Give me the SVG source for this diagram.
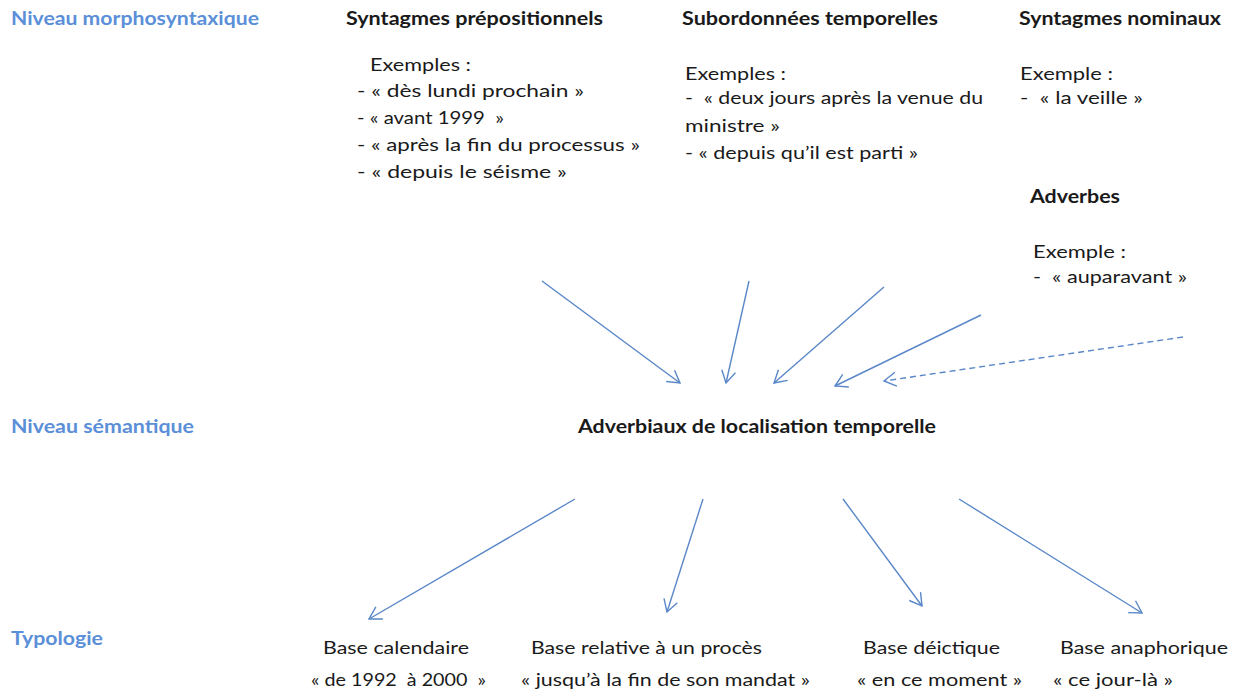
<svg xmlns="http://www.w3.org/2000/svg" width="1238" height="693" viewBox="0 0 1238 693">
<style>
text{font-family:Lato,"Liberation Sans",sans-serif;font-size:18px;fill:#1a1a1a}
.lvl{fill:#5b8fd8;font-weight:bold}
.h{font-weight:bold}
.c{stroke:#5a87c8;stroke-width:1.4;fill:none}
.d{stroke-dasharray:6 4}
</style>
<defs>
<marker id="ah" markerWidth="16" markerHeight="16" refX="13" refY="8" orient="auto" markerUnits="userSpaceOnUse">
<polyline points="1,1 13,8 1,15" fill="none" stroke="#5a87c8" stroke-width="1.4"/>
</marker>
</defs>
<rect width="1238" height="693" fill="#fff"/>
<g id="levels">
<text class="lvl" x="11" y="25" textLength="248" lengthAdjust="spacingAndGlyphs">Niveau morphosyntaxique</text>
<text class="lvl" x="11" y="433" textLength="183" lengthAdjust="spacingAndGlyphs">Niveau sémantique</text>
<text class="lvl" x="11" y="645" textLength="92" lengthAdjust="spacingAndGlyphs">Typologie</text>
</g>
<g id="sp">
<text class="h" x="346" y="25" textLength="257" lengthAdjust="spacingAndGlyphs">Syntagmes prépositionnels</text>
<text x="370" y="71" textLength="101" lengthAdjust="spacingAndGlyphs">Exemples :</text>
<text x="357" y="97" textLength="227" lengthAdjust="spacingAndGlyphs">- « dès lundi prochain »</text>
<text x="357" y="124" textLength="147" lengthAdjust="spacingAndGlyphs" xml:space="preserve">- « avant 1999  »</text>
<text x="357" y="151" textLength="283" lengthAdjust="spacingAndGlyphs">- « après la fin du processus »</text>
<text x="357" y="178" textLength="210" lengthAdjust="spacingAndGlyphs">- « depuis le séisme »</text>
</g>
<g id="st">
<text class="h" x="682" y="25" textLength="256" lengthAdjust="spacingAndGlyphs">Subordonnées temporelles</text>
<text x="685" y="80" textLength="101" lengthAdjust="spacingAndGlyphs">Exemples :</text>
<text x="685" y="104" textLength="298" lengthAdjust="spacingAndGlyphs" xml:space="preserve">-  « deux jours après la venue du</text>
<text x="685" y="132" textLength="95" lengthAdjust="spacingAndGlyphs">ministre »</text>
<text x="685" y="159" textLength="233" lengthAdjust="spacingAndGlyphs">- « depuis qu’il est parti »</text>
</g>
<g id="sn">
<text class="h" x="1019" y="25" textLength="202" lengthAdjust="spacingAndGlyphs">Syntagmes nominaux</text>
<text x="1020" y="80" textLength="93" lengthAdjust="spacingAndGlyphs">Exemple :</text>
<text x="1020" y="104" textLength="123" lengthAdjust="spacingAndGlyphs" xml:space="preserve">-  « la veille »</text>
</g>
<g id="adv">
<text class="h" x="1030" y="203" textLength="90" lengthAdjust="spacingAndGlyphs">Adverbes</text>
<text x="1033" y="258" textLength="93" lengthAdjust="spacingAndGlyphs">Exemple :</text>
<text x="1033" y="283" textLength="154" lengthAdjust="spacingAndGlyphs" xml:space="preserve">-  « auparavant »</text>
</g>
<g id="alt">
<text class="h" x="578" y="433" textLength="358" lengthAdjust="spacingAndGlyphs">Adverbiaux de localisation temporelle</text>
</g>
<g id="bc">
<text x="323" y="654" textLength="146" lengthAdjust="spacingAndGlyphs">Base calendaire</text>
<text x="311" y="686" textLength="175" lengthAdjust="spacingAndGlyphs" xml:space="preserve">« de 1992  à 2000  »</text>
</g>
<g id="br">
<text x="531" y="654" textLength="231" lengthAdjust="spacingAndGlyphs">Base relative à un procès</text>
<text x="521" y="686" textLength="289" lengthAdjust="spacingAndGlyphs">« jusqu’à la fin de son mandat »</text>
</g>
<g id="bd">
<text x="863" y="654" textLength="137" lengthAdjust="spacingAndGlyphs">Base déictique</text>
<text x="857" y="686" textLength="165" lengthAdjust="spacingAndGlyphs">« en ce moment »</text>
</g>
<g id="ba">
<text x="1060" y="654" textLength="168" lengthAdjust="spacingAndGlyphs">Base anaphorique</text>
<text x="1053" y="686" textLength="120" lengthAdjust="spacingAndGlyphs">« ce jour-là »</text>
</g>
<g id="connectors">
<line class="c" x1="542" y1="281" x2="680" y2="383" marker-end="url(#ah)"/>
<line class="c" x1="749" y1="281" x2="726" y2="383" marker-end="url(#ah)"/>
<line class="c" x1="884" y1="287" x2="774" y2="383" marker-end="url(#ah)"/>
<line class="c" x1="981" y1="315" x2="835" y2="386" marker-end="url(#ah)"/>
<line class="c d" x1="1183" y1="337" x2="884" y2="381" marker-end="url(#ah)"/>
<line class="c" x1="575" y1="499" x2="369" y2="619" marker-end="url(#ah)"/>
<line class="c" x1="703" y1="499" x2="667" y2="612" marker-end="url(#ah)"/>
<line class="c" x1="843" y1="499" x2="922" y2="606" marker-end="url(#ah)"/>
<line class="c" x1="959" y1="499" x2="1142" y2="613" marker-end="url(#ah)"/>
</g>
</svg>
